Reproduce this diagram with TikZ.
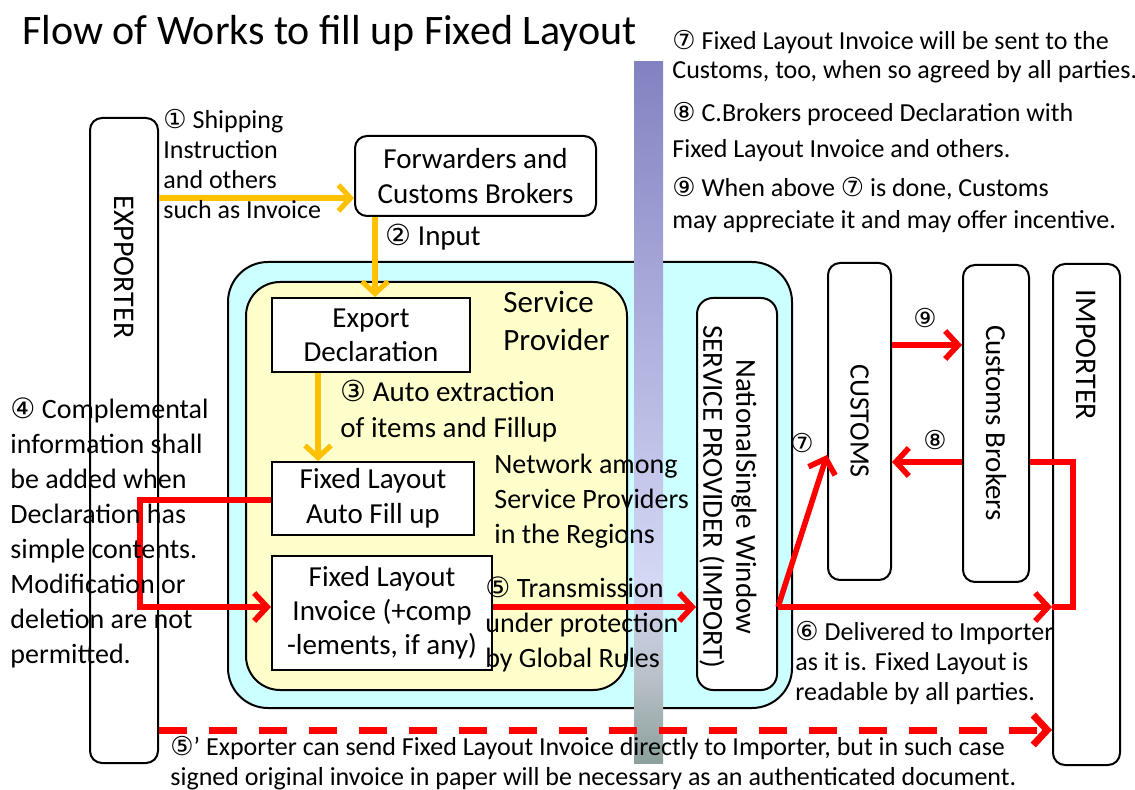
\documentclass[tikz,border=0pt]{standalone}
\usepackage{fontspec}
\setmainfont{Carlito}
\newfontfamily\dvs{DejaVu Sans}
\usetikzlibrary{arrows.meta}
\newcommand{\cn}[1]{{\dvs #1}}
\newcommand{\fsz}[2]{\fontsize{#1}{#2}\selectfont}
\definecolor{orng}{HTML}{FFC000}
\definecolor{rd}{HTML}{FF0000}
\definecolor{cyanfill}{HTML}{CCFFFF}
\definecolor{yelfill}{HTML}{FFFFCC}
\definecolor{bartop}{HTML}{8282C2}
\definecolor{barup}{HTML}{AAAADA}
\definecolor{barlight}{HTML}{D4D8F4}
\definecolor{barlow}{HTML}{B8C0C8}
\definecolor{barbot}{HTML}{8CA09C}
\pgfdeclareverticalshading{barshade}{100bp}{color(0bp)=(barbot); color(25bp)=(barbot); color(31bp)=(barlow); color(38bp)=(barlight); color(58bp)=(barup); color(75bp)=(bartop); color(100bp)=(bartop)}
\begin{document}
\begin{tikzpicture}[x=0.5pt,y=-0.5pt,
  box/.style={draw=black, line width=1pt, fill=white, inner sep=0pt},
  rbox/.style={box, rounded corners=6pt},
  boxtext/.style={inner sep=0pt, align=center, font=\fsz{14.5}{17.5}},
  vtext/.style={inner sep=0pt, align=center, rotate=-90, font=\fsz{14.5}{16.5}},
  txt/.style={inner sep=0pt, align=left, anchor=base west},
  oarr/.style={draw=orng, line width=2.6pt, -{Straight Barb[length=6pt,width=13pt]}},
  rarr/.style={draw=rd, line width=2.8pt, -{Straight Barb[length=6.5pt,width=14pt]}},
  rline/.style={draw=rd, line width=2.8pt},
  darr/.style={draw=rd, line width=3.5pt, dash pattern=on 14pt off 11pt, -{Straight Barb[length=7pt,width=15pt]}}
]
\useasboundingbox (0,0) rectangle (1135,790);

% title
\node[txt, font=\fsz{21}{24}] (title) at (22,45) {Flow of Works to fill up Fixed Layout};

% big containers
\node[box, fill=cyanfill, rounded corners=20pt, minimum width=282pt, minimum height=223pt] (cyanbox) at (510,485) {};
\node[box, fill=yelfill, rounded corners=17pt, minimum width=190.5pt, minimum height=204pt] (yelbox) at (436.5,486) {};

% gradient bar
\shade[shading=barshade] (634,62) rectangle (663,763);

% boxes
\node[rbox, minimum width=34pt, minimum height=322.5pt] (exp) at (124,440.5) {};
\node[rbox, minimum width=120.5pt, minimum height=40pt, boxtext] (fwd) at (475.5,176) {Forwarders and\\Customs Brokers};
\node[box, minimum width=99pt, minimum height=37pt, boxtext, font=\fsz{14.5}{17}] (expdecl) at (371,335) {Export\\Declaration};
\node[box, minimum width=101pt, minimum height=36.5pt, boxtext] (autofill) at (373,498.5) {Fixed Layout\\Auto Fill up};
\node[box, minimum width=110pt, minimum height=57pt, boxtext, font=\fsz{14.5}{17}] (invoice) at (382,613) {Fixed Layout\\Invoice (+comp\\-lements, if any)};
\node[rbox, rounded corners=8pt, minimum width=40pt, minimum height=196pt] (nsw) at (737,494) {};
\node[rbox, minimum width=31.5pt, minimum height=158.5pt] (customs) at (859.5,421.5) {};
\node[rbox, minimum width=33pt, minimum height=158.5pt] (brokers) at (996,423.5) {};
\node[rbox, minimum width=33.5pt, minimum height=250.5pt] (importer) at (1086.5,514.5) {};

% rotated texts
\node[vtext, font=\fsz{15}{17}] (expt) at (124,267) {EXPPORTER};
\node[vtext, font=\fsz{15}{17}] (impt) at (1086.5,355) {IMPORTER};
\node[vtext, font=\fsz{14}{16}] (cust) at (859.5,421) {CUSTOMS};
\node[vtext] (brkt) at (996,423) {Customs Brokers};
\node[vtext] (nswt) at (728,497) {NationalSingle Window\\SERVICE PROVIDER (IMPORT)};

% helper coordinates
\coordinate (y1) at (0,198);
\coordinate (x2) at (375,0);
\coordinate (x3) at (318,0);
\coordinate (y4) at (0,500);
\coordinate (x4) at (140,0);
\coordinate (y5) at (0,607);
\coordinate (y7) at (0,455);
\coordinate (y9) at (0,345);
\coordinate (y8) at (0,462);
\coordinate (x8) at (1073,0);
\coordinate (yd) at (0,730);

% orange connectors
\draw[oarr] (exp.east |- y1) -- (fwd.west |- y1);
\draw[oarr] (fwd.south -| x2) -- (expdecl.north -| x2);
\draw[oarr] (expdecl.south -| x3) -- (autofill.north -| x3);

% red connectors
\draw[rarr] (autofill.west |- y4) -- (x4 |- y4) -- (x4 |- y5) -- (invoice.west |- y5);
\draw[rarr] (invoice.east |- y5) -- (nsw.west |- y5);
\draw[rarr] (nsw.east |- y5) -- (importer.west |- y5);
\draw[rarr] (nsw.east |- y5) -- (customs.west |- y7);
\draw[rarr] (customs.east |- y9) -- (brokers.west |- y9);
\draw[rarr] (brokers.west |- y8) -- (customs.east |- y8);
\draw[rline] (brokers.east |- y8) -- (x8 |- y8) -- (x8 |- y5) -- (importer.west |- y5);
\draw[darr] (exp.east |- yd) -- (importer.west |- yd);

% labels on connectors
\node[inner sep=0pt, font=\fsz{13}{15}\dvs] (l7) at (802,443) {⑦};
\node[inner sep=0pt, font=\fsz{13}{15}\dvs] (l9) at (925,318) {⑨};
\node[inner sep=0pt, font=\fsz{13}{15}\dvs] (l8) at (935,440) {⑧};

% annotation texts (anchor = baseline of last line)
\node[txt, font=\fsz{13}{14.5}] (n7) at (672,79) {\cn{⑦} Fixed Layout Invoice will be sent to the\\Customs, too, when so agreed by all parties.};
\node[txt, font=\fsz{13}{18}] (n8) at (672,158) {\cn{⑧} C.Brokers proceed Declaration with\\Fixed Layout Invoice and others.};
\node[txt, font=\fsz{13}{16}] (n9) at (672,229) {\cn{⑨} When above \cn{⑦} is done, Customs\\may appreciate it and may offer incentive.};
\node[txt, font=\fsz{13}{15}] (n1) at (163,219) {\cn{①} Shipping\\Instruction\\and others\\such as Invoice};
\node[txt, font=\fsz{14.5}{17}] (n2) at (385,246) {\cn{②} Input};
\node[txt, font=\fsz{15.5}{19}] (sp) at (503,351) {Service\\Provider};
\node[txt, font=\fsz{14.5}{18}] (n3) at (340,438) {\cn{③} Auto extraction\\of items and Fillup};
\node[txt, font=\fsz{14}{17.5}] (net) at (494,544) {Network among\\Service Providers\\in the Regions};
\node[txt, font=\fsz{14}{17.5}] (n5) at (485,668) {\cn{⑤} Transmission\\under protection\\by Global Rules};
\node[txt, font=\fsz{14}{17.5}] (n4) at (10,663) {\cn{④} Complemental\\information shall\\be added when\\Declaration has\\simple contents.\\Modification or\\deletion are not\\permitted.};
\node[txt, font=\fsz{13}{15}] (n6) at (795,700) {\cn{⑥} Delivered to Importer\\as it is. Fixed Layout is\\readable by all parties.};
\node[txt, font=\fsz{13}{15}] (n5b) at (170,785) {\cn{⑤}’ Exporter can send Fixed Layout Invoice directly to Importer, but in such case\\signed original invoice in paper will be necessary as an authenticated document.};
\end{tikzpicture}
\end{document}
